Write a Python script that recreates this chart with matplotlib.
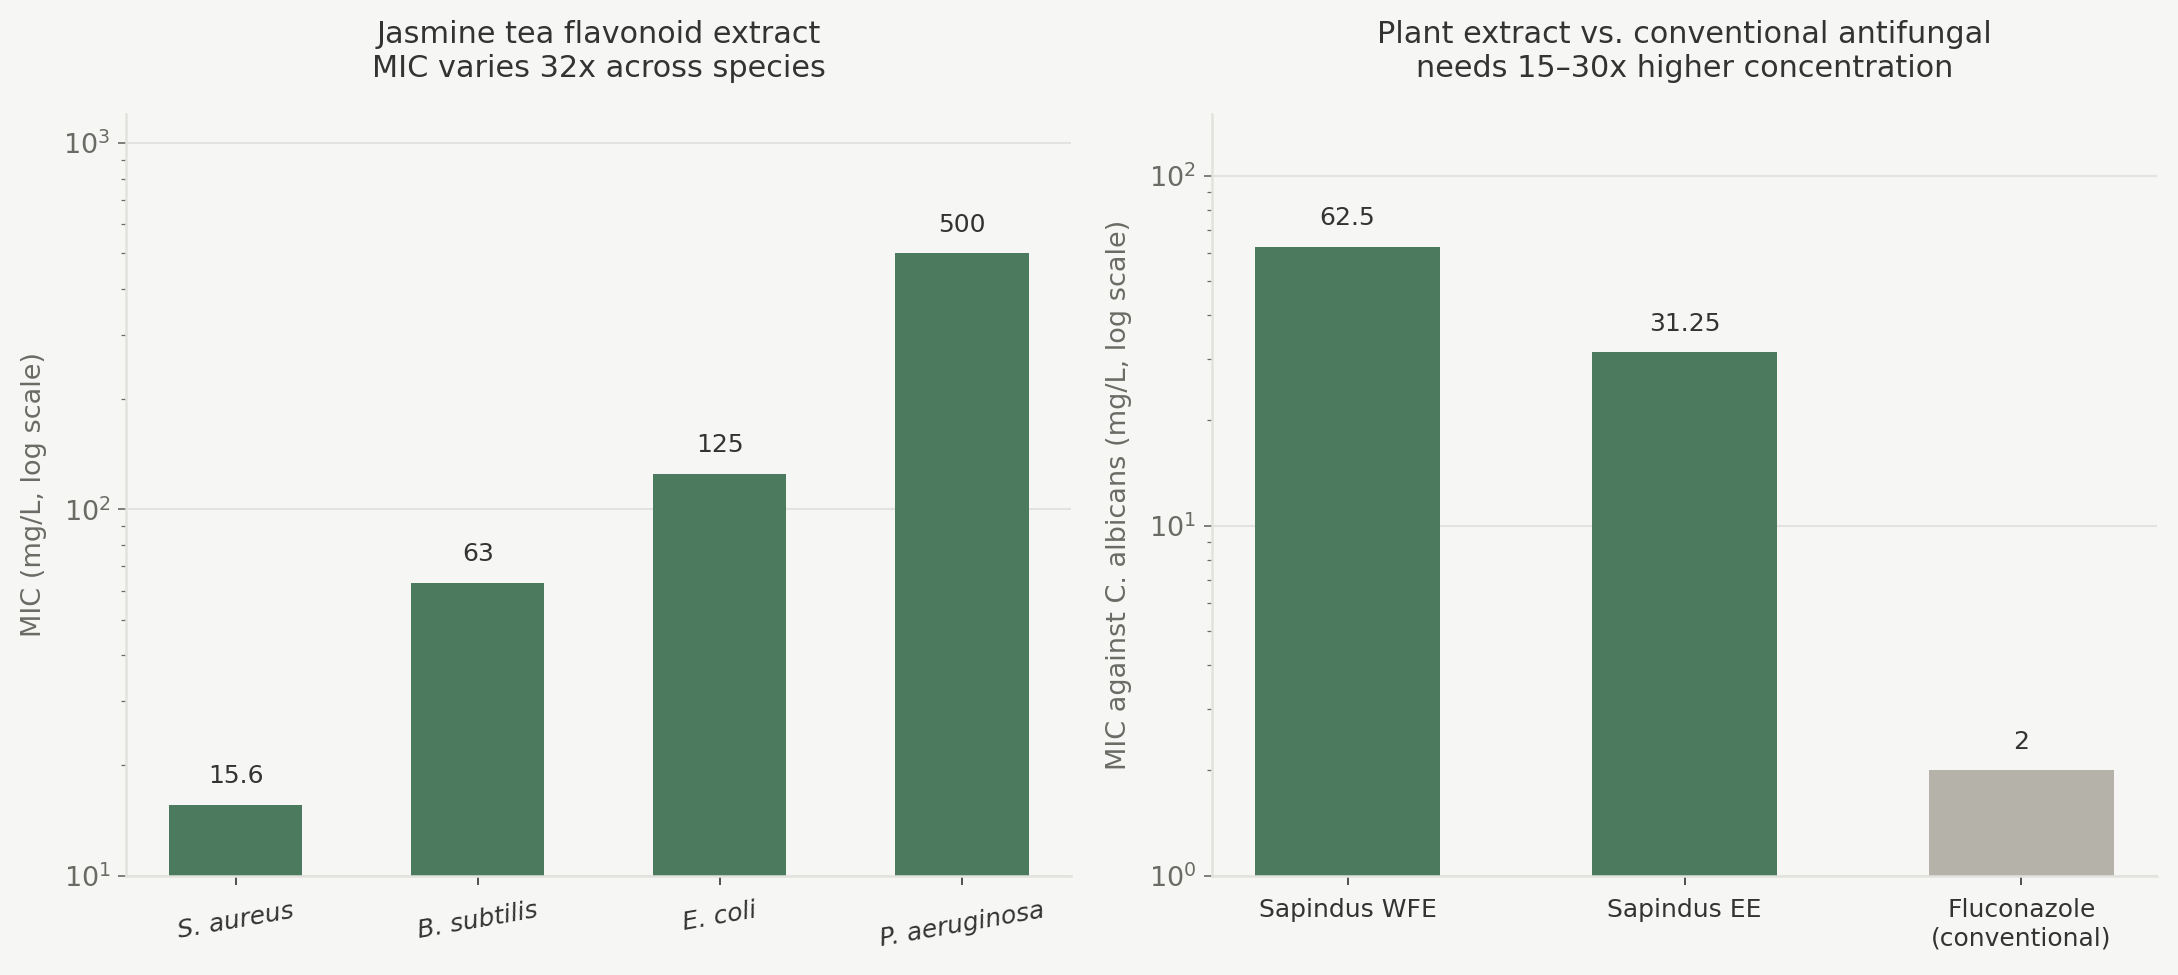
import numpy as np
import matplotlib
matplotlib.use("Agg")
import matplotlib.pyplot as plt

# data
species = ["S. aureus", "B. subtilis", "E. coli", "P. aeruginosa"]
species_mic = [15.6, 63, 125, 500]
species_lbl = ["15.6", "63", "125", "500"]

agents = ["Sapindus WFE", "Sapindus EE", "Fluconazole\n(conventional)"]
agents_mic = [62.5, 31.25, 2]
agents_lbl = ["62.5", "31.25", "2"]

green = "#4b7a5e"
grey = "#b5b2aa"
bg = "#f6f6f4"
gridc = "#e2e2de"
txtc = "#333333"
tickc = "#6b6b66"

plt.rcParams['font.family'] = ['DejaVu Sans']

fig, ax = plt.subplots(1, 2, figsize=(14.52, 6.5), dpi=150)
fig.patch.set_facecolor(bg)
fig.subplots_adjust(left=0.058, right=0.9904, top=0.883, bottom=0.102, wspace=0.1486)

def style(a):
    a.set_facecolor(bg)
    a.set_yscale('log')
    for s in ['top', 'right']:
        a.spines[s].set_visible(False)
    for s in ['left', 'bottom']:
        a.spines[s].set_color(gridc)
        a.spines[s].set_linewidth(1.2)
    a.grid(axis='y', which='major', color=gridc, lw=1.0)
    a.set_axisbelow(True)
    a.tick_params(axis='y', which='major', colors=tickc, labelsize=13, length=4)
    a.tick_params(axis='y', which='minor', colors=tickc, length=2.5)
    a.tick_params(axis='x', colors=txtc, labelsize=12, length=4.5, pad=6.5)

# left panel
x = np.arange(len(species))
ax[0].bar(x, species_mic, width=0.55, color=green)
style(ax[0])
ax[0].set_ylim(10, max(species_mic) * 2.4)
for xi, v, t in zip(x, species_mic, species_lbl):
    ax[0].annotate(t, (xi, v), xytext=(0, 8), textcoords='offset points',
                   ha='center', va='bottom', fontsize=12, color=txtc)
ax[0].set_xticks(x)
ax[0].set_xticklabels(species, rotation=10, style='italic')
ax[0].set_ylabel("MIC (mg/L, log scale)", fontsize=13, color=tickc, labelpad=8)
ax[0].set_title("Jasmine tea flavonoid extract\nMIC varies 32x across species",
                fontsize=14.5, color=txtc, pad=18)

# right panel
x2 = np.arange(len(agents))
ax[1].bar(x2, agents_mic, width=0.55, color=[green, green, grey])
style(ax[1])
ax[1].set_ylim(1, max(agents_mic) * 2.4)
for xi, v, t in zip(x2, agents_mic, agents_lbl):
    ax[1].annotate(t, (xi, v), xytext=(0, 8), textcoords='offset points',
                   ha='center', va='bottom', fontsize=12, color=txtc)
ax[1].set_xticks(x2)
ax[1].set_xticklabels(agents)
ax[1].set_ylabel("MIC against C. albicans (mg/L, log scale)", fontsize=13, color=tickc, labelpad=8)
ax[1].set_title("Plant extract vs. conventional antifungal\nneeds 15\u201330x higher concentration",
                fontsize=14.5, color=txtc, pad=18)

plt.savefig("out.png", dpi=150, facecolor=bg)
plt.close()
